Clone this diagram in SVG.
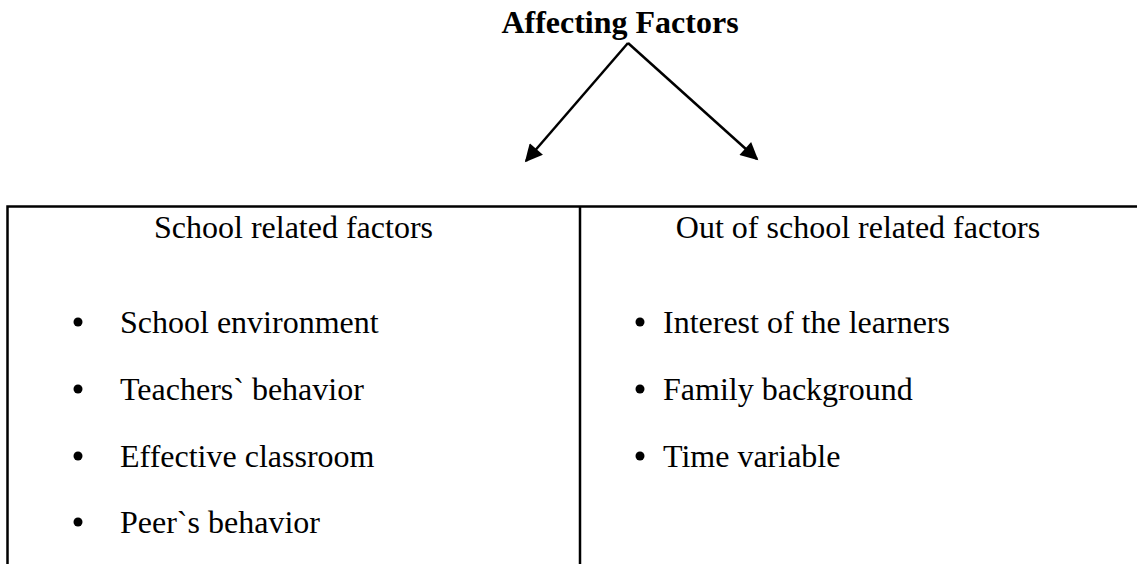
<svg xmlns="http://www.w3.org/2000/svg" width="1137" height="564" viewBox="0 0 1137 564">
<defs>
<style>
.t{font-family:"Liberation Serif","Times New Roman",serif;font-size:32px;fill:#000}
.b{font-weight:bold}
.ln{stroke:#000;stroke-width:2.5;fill:none}
.bl{fill:#000}
</style>
<marker id="ah" viewBox="0 0 10 10" refX="9" refY="5" markerWidth="8" markerHeight="7" markerUnits="strokeWidth" orient="auto">
<path d="M0,0 L10,5 L0,10 z" fill="#000"/>
</marker>
</defs>
<rect width="1137" height="564" fill="#fff"/>
<g id="title">
<text class="t b" x="620" y="33" text-anchor="middle">Affecting Factors</text>
</g>
<g id="connectors">
<line class="ln" x1="628" y1="43" x2="526" y2="161" marker-end="url(#ah)"/>
<line class="ln" x1="628" y1="43" x2="757" y2="159" marker-end="url(#ah)"/>
</g>
<g id="table">
<path class="ln" d="M7.5,564 V206.5 H1137 M580,206.5 V564"/>
</g>
<g id="school">
<text class="t" x="293.5" y="238" text-anchor="middle">School related factors</text>
<circle class="bl" cx="78" cy="322" r="4.5"/>
<text class="t" x="120" y="333">School environment</text>
<circle class="bl" cx="78" cy="389" r="4.5"/>
<text class="t" x="120" y="400">Teachers` behavior</text>
<circle class="bl" cx="78" cy="456" r="4.5"/>
<text class="t" x="120" y="467">Effective classroom</text>
<circle class="bl" cx="78" cy="522" r="4.5"/>
<text class="t" x="120" y="533">Peer`s behavior</text>
</g>
<g id="outschool">
<text class="t" x="858" y="238" text-anchor="middle">Out of school related factors</text>
<circle class="bl" cx="640" cy="322" r="4.5"/>
<text class="t" x="663" y="333">Interest of the learners</text>
<circle class="bl" cx="640" cy="389" r="4.5"/>
<text class="t" x="663" y="400">Family background</text>
<circle class="bl" cx="640" cy="456" r="4.5"/>
<text class="t" x="663" y="467">Time variable</text>
</g>
</svg>
